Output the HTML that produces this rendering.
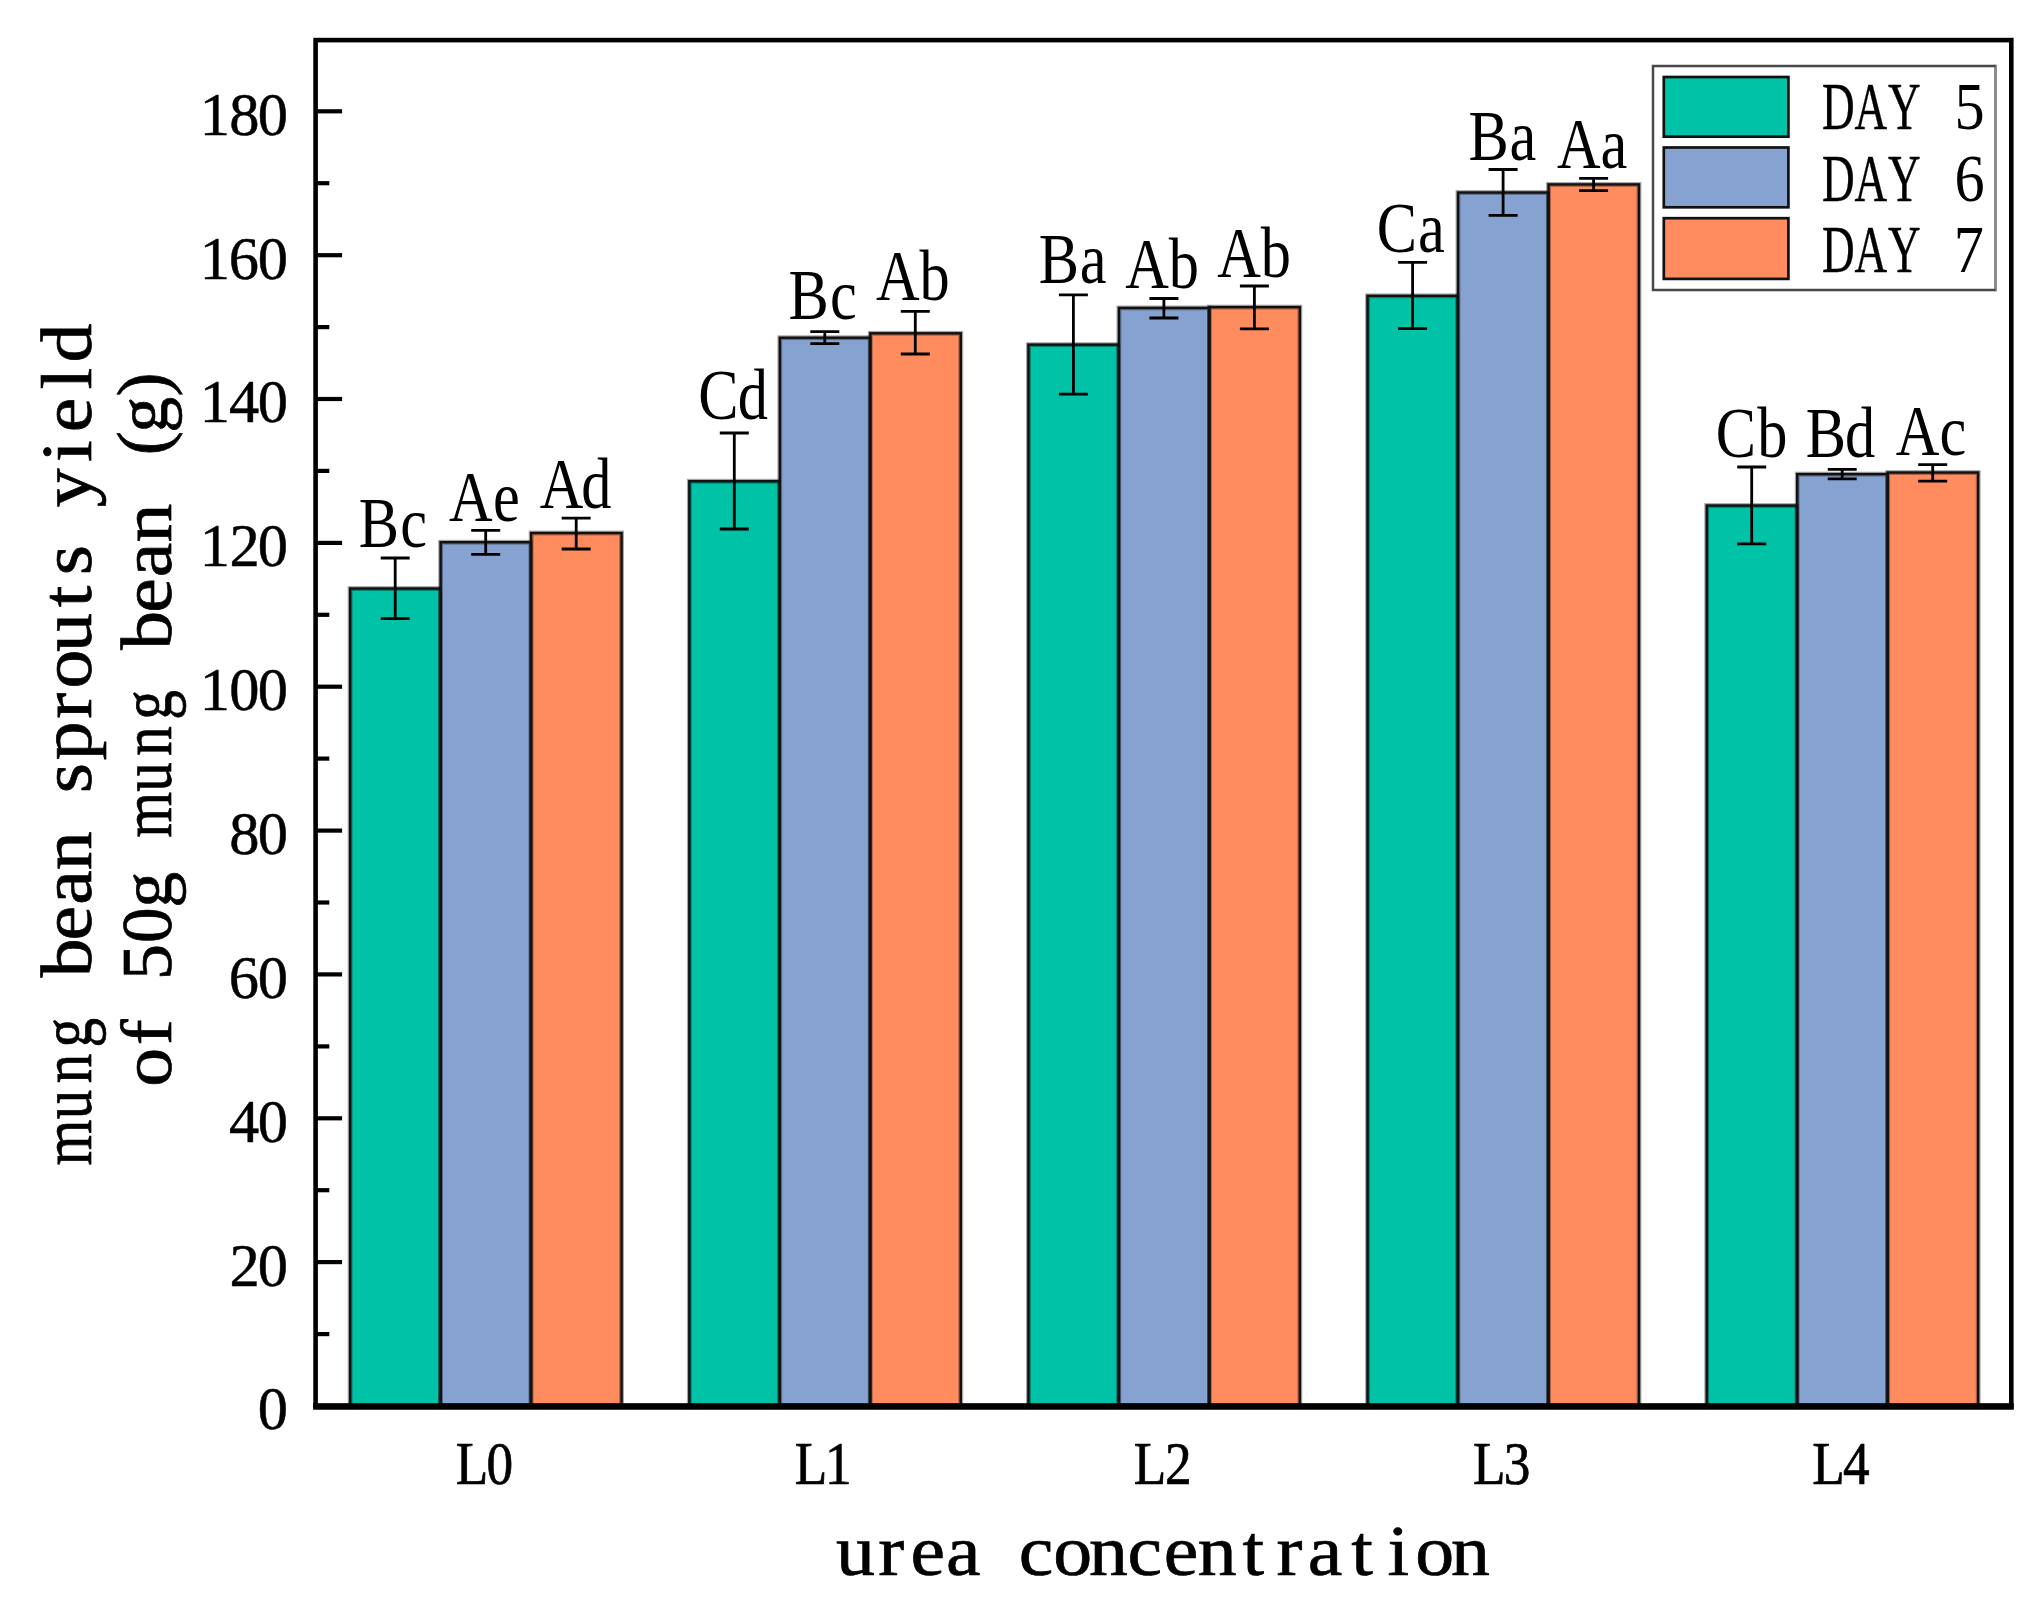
<!DOCTYPE html>
<html lang="en"><head><meta charset="utf-8"><title>mung bean sprouts yield</title>
<style>html,body{margin:0;padding:0;background:#fff}svg{display:block}</style></head>
<body>
<svg width="2040" height="1605" viewBox="0 0 2040 1605" font-family="'Liberation Serif', 'DejaVu Serif', serif">
<desc>Grouped bar chart: mung bean sprouts yield of 50g mung bean (g) versus urea concentration (L0, L1, L2, L3, L4) for DAY 5, DAY 6 and DAY 7</desc>
<rect x="0" y="0" width="2040" height="1605" fill="#fff"/>
<g stroke="#000" stroke-width="4.8" stroke-opacity="0.35">
<rect x="350.1" y="588.5" width="90.5" height="817.5" fill="#00C2A6"/>
<rect x="440.6" y="542.2" width="90.5" height="863.8" fill="#86A2D1"/>
<rect x="531.1" y="533.0" width="90.5" height="873.0" fill="#FF8C5E"/>
<rect x="689.3" y="481.2" width="90.5" height="924.8" fill="#00C2A6"/>
<rect x="779.8" y="337.7" width="90.5" height="1068.3" fill="#86A2D1"/>
<rect x="870.3" y="333.3" width="90.5" height="1072.7" fill="#FF8C5E"/>
<rect x="1028.4" y="344.6" width="90.5" height="1061.4" fill="#00C2A6"/>
<rect x="1118.9" y="307.9" width="90.5" height="1098.1" fill="#86A2D1"/>
<rect x="1209.4" y="307.1" width="90.5" height="1098.9" fill="#FF8C5E"/>
<rect x="1367.5" y="295.8" width="90.5" height="1110.2" fill="#00C2A6"/>
<rect x="1458.0" y="192.5" width="90.5" height="1213.5" fill="#86A2D1"/>
<rect x="1548.5" y="184.4" width="90.5" height="1221.6" fill="#FF8C5E"/>
<rect x="1706.7" y="505.5" width="90.5" height="900.5" fill="#00C2A6"/>
<rect x="1797.2" y="474.1" width="90.5" height="931.9" fill="#86A2D1"/>
<rect x="1887.7" y="472.5" width="90.5" height="933.5" fill="#FF8C5E"/>
</g>
<g stroke="#111" stroke-width="2.4" stroke-opacity="1.00">
<rect x="350.1" y="588.5" width="90.5" height="817.5" fill="none"/>
<rect x="440.6" y="542.2" width="90.5" height="863.8" fill="none"/>
<rect x="531.1" y="533.0" width="90.5" height="873.0" fill="none"/>
<rect x="689.3" y="481.2" width="90.5" height="924.8" fill="none"/>
<rect x="779.8" y="337.7" width="90.5" height="1068.3" fill="none"/>
<rect x="870.3" y="333.3" width="90.5" height="1072.7" fill="none"/>
<rect x="1028.4" y="344.6" width="90.5" height="1061.4" fill="none"/>
<rect x="1118.9" y="307.9" width="90.5" height="1098.1" fill="none"/>
<rect x="1209.4" y="307.1" width="90.5" height="1098.9" fill="none"/>
<rect x="1367.5" y="295.8" width="90.5" height="1110.2" fill="none"/>
<rect x="1458.0" y="192.5" width="90.5" height="1213.5" fill="none"/>
<rect x="1548.5" y="184.4" width="90.5" height="1221.6" fill="none"/>
<rect x="1706.7" y="505.5" width="90.5" height="900.5" fill="none"/>
<rect x="1797.2" y="474.1" width="90.5" height="931.9" fill="none"/>
<rect x="1887.7" y="472.5" width="90.5" height="933.5" fill="none"/>
</g>
<g stroke="#000" stroke-width="2.8" fill="none">
<path d="M395.2 558.0V618.7M380.7 558.0H409.7M380.7 618.7H409.7"/>
<path d="M485.7 530.4V554.4M471.2 530.4H500.2M471.2 554.4H500.2"/>
<path d="M576.2 518.2V549.0M561.7 518.2H590.7M561.7 549.0H590.7"/>
<path d="M734.3 433.0V529.0M719.8 433.0H748.8M719.8 529.0H748.8"/>
<path d="M824.8 331.7V343.7M810.3 331.7H839.3M810.3 343.7H839.3"/>
<path d="M915.3 311.4V354.0M900.8 311.4H929.8M900.8 354.0H929.8"/>
<path d="M1073.4 294.9V394.2M1058.9 294.9H1087.9M1058.9 394.2H1087.9"/>
<path d="M1163.9 298.5V318.0M1149.4 298.5H1178.4M1149.4 318.0H1178.4"/>
<path d="M1254.4 286.0V328.9M1239.9 286.0H1268.9M1239.9 328.9H1268.9"/>
<path d="M1412.6 262.4V328.7M1398.1 262.4H1427.1M1398.1 328.7H1427.1"/>
<path d="M1503.1 169.5V215.3M1488.6 169.5H1517.6M1488.6 215.3H1517.6"/>
<path d="M1593.6 178.4V190.7M1579.1 178.4H1608.1M1579.1 190.7H1608.1"/>
<path d="M1751.7 467.0V543.9M1737.2 467.0H1766.2M1737.2 543.9H1766.2"/>
<path d="M1842.2 469.4V478.8M1827.7 469.4H1856.7M1827.7 478.8H1856.7"/>
<path d="M1932.7 464.7V481.2M1918.2 464.7H1947.2M1918.2 481.2H1947.2"/>
</g>
<rect x="315.6" y="40.1" width="1695.7" height="1365.9" fill="none" stroke="#000" stroke-width="4.6"/>
<path d="M313.1 1406.5H2013.8" stroke="#000" stroke-width="6.6"/>
<g stroke="#000" stroke-width="4.2">
<path d="M315.6 1334.1H329.3"/>
<path d="M315.6 1262.1H342.1"/>
<path d="M315.6 1190.2H329.3"/>
<path d="M315.6 1118.3H342.1"/>
<path d="M315.6 1046.4H329.3"/>
<path d="M315.6 974.4H342.1"/>
<path d="M315.6 902.5H329.3"/>
<path d="M315.6 830.6H342.1"/>
<path d="M315.6 758.6H329.3"/>
<path d="M315.6 686.7H342.1"/>
<path d="M315.6 614.8H329.3"/>
<path d="M315.6 542.9H342.1"/>
<path d="M315.6 470.9H329.3"/>
<path d="M315.6 399.0H342.1"/>
<path d="M315.6 327.1H329.3"/>
<path d="M315.6 255.2H342.1"/>
<path d="M315.6 183.2H329.3"/>
<path d="M315.6 111.3H342.1"/>
</g>
<text transform="translate(258.6,1429.4) scale(0.990,1.000)" font-size="61.0" fill="#000" stroke="#000" stroke-width="0.5" x="-0.8" y="0">0</text>
<text transform="translate(230.0,1285.5) scale(0.990,1.000)" font-size="61.0" fill="#000" stroke="#000" stroke-width="0.5" x="-0.5 28.1" y="0">20</text>
<text transform="translate(230.0,1141.7) scale(0.990,1.000)" font-size="61.0" fill="#000" stroke="#000" stroke-width="0.5" x="-0.9 28.1" y="0">40</text>
<text transform="translate(230.0,997.8) scale(0.990,1.000)" font-size="61.0" fill="#000" stroke="#000" stroke-width="0.5" x="-1.2 28.1" y="0">60</text>
<text transform="translate(230.0,854.0) scale(0.990,1.000)" font-size="61.0" fill="#000" stroke="#000" stroke-width="0.5" x="-0.8 28.1" y="0">80</text>
<text transform="translate(201.4,710.1) scale(0.990,1.000)" font-size="61.0" fill="#000" stroke="#000" stroke-width="0.5" x="-1.7 28.1 57.0" y="0">100</text>
<text transform="translate(201.4,566.3) scale(0.990,1.000)" font-size="61.0" fill="#000" stroke="#000" stroke-width="0.5" x="-1.7 28.4 57.0" y="0">120</text>
<text transform="translate(201.4,422.4) scale(0.990,1.000)" font-size="61.0" fill="#000" stroke="#000" stroke-width="0.5" x="-1.7 28.0 57.0" y="0">140</text>
<text transform="translate(201.4,278.6) scale(0.990,1.000)" font-size="61.0" fill="#000" stroke="#000" stroke-width="0.5" x="-1.7 27.7 57.0" y="0">160</text>
<text transform="translate(201.4,134.7) scale(0.990,1.000)" font-size="61.0" fill="#000" stroke="#000" stroke-width="0.5" x="-1.7 28.1 57.0" y="0">180</text>
<text transform="translate(456.7,1484.4) scale(0.880,1.000)" font-size="60.5" fill="#000" stroke="#000" stroke-width="0.7" x="-1.2 34.0" y="0">L0</text>
<text transform="translate(795.8,1484.4) scale(0.880,1.000)" font-size="60.5" fill="#000" stroke="#000" stroke-width="0.7" x="-1.2 33.1" y="0">L1</text>
<text transform="translate(1134.9,1484.4) scale(0.880,1.000)" font-size="60.5" fill="#000" stroke="#000" stroke-width="0.7" x="-1.2 34.3" y="0">L2</text>
<text transform="translate(1474.1,1484.4) scale(0.880,1.000)" font-size="60.5" fill="#000" stroke="#000" stroke-width="0.7" x="-1.2 33.7" y="0">L3</text>
<text transform="translate(1813.2,1484.4) scale(0.880,1.000)" font-size="60.5" fill="#000" stroke="#000" stroke-width="0.7" x="-1.2 33.8" y="0">L4</text>
<text transform="translate(357.3,546.6) scale(0.850,1.000)" font-size="71.0" fill="#000" x="1.8 50.6" y="0">Bc</text>
<text transform="translate(448.1,520.6) scale(0.850,1.000)" font-size="71.0" fill="#000" x="1.2 52.9" y="0">Ae</text>
<text transform="translate(539.9,508.4) scale(0.850,1.000)" font-size="71.0" fill="#000" x="-0.3 48.7" y="0">Ad</text>
<text transform="translate(698.4,419.4) scale(0.850,1.000)" font-size="71.0" fill="#000" x="-0.1 46.3" y="0">Cd</text>
<text transform="translate(787.1,319.3) scale(0.850,1.000)" font-size="71.0" fill="#000" x="1.8 50.6" y="0">Bc</text>
<text transform="translate(876.5,299.8) scale(0.850,1.000)" font-size="71.0" fill="#000" x="-0.5 50.7" y="0">Ab</text>
<text transform="translate(1037.5,282.8) scale(0.850,1.000)" font-size="71.0" fill="#000" x="1.4 49.8" y="0">Ba</text>
<text transform="translate(1125.7,288.2) scale(0.850,1.000)" font-size="71.0" fill="#000" x="-0.5 50.7" y="0">Ab</text>
<text transform="translate(1217.6,276.5) scale(0.850,1.000)" font-size="71.0" fill="#000" x="-0.5 50.7" y="0">Ab</text>
<text transform="translate(1376.0,251.8) scale(0.850,1.000)" font-size="71.0" fill="#000" x="0.9 49.4" y="0">Ca</text>
<text transform="translate(1467.2,160.4) scale(0.850,1.000)" font-size="71.0" fill="#000" x="1.4 49.8" y="0">Ba</text>
<text transform="translate(1556.4,167.5) scale(0.850,1.000)" font-size="71.0" fill="#000" x="0.7 51.8" y="0">Aa</text>
<text transform="translate(1716.0,456.5) scale(0.850,1.000)" font-size="71.0" fill="#000" x="-0.3 48.4" y="0">Cb</text>
<text transform="translate(1805.4,456.5) scale(0.850,1.000)" font-size="71.0" fill="#000" x="0.4 46.7" y="0">Bd</text>
<text transform="translate(1894.8,455.0) scale(0.850,1.000)" font-size="71.0" fill="#000" x="1.1 52.7" y="0">Ac</text>
<rect x="1653.0" y="66.0" width="342.5" height="224" fill="#fff" stroke="none"/>
<path d="M1995.5 64.7V291.3" fill="none" stroke="#8c8c8c" stroke-width="3"/>
<path d="M1995.5 66H1653V290H1995.5" fill="none" stroke="#484848" stroke-width="2.5"/>
<rect x="1663.8" y="77.0" width="124.6" height="59.7" fill="#00C2A6" stroke="#111" stroke-width="2.7"/>
<text transform="translate(1821.5,129.4) scale(0.660,1.000)" font-size="68.5" fill="#000" stroke="#000" stroke-width="0.4" x="0.7 50.2 100.8" y="0">DAY</text>
<text transform="translate(1953.5,129.4) scale(0.880,1.000)" font-size="68.5" fill="#000" x="1.0" y="0">5</text>
<rect x="1663.8" y="147.5" width="124.6" height="59.8" fill="#86A2D1" stroke="#111" stroke-width="2.7"/>
<text transform="translate(1821.5,201.4) scale(0.660,1.000)" font-size="68.5" fill="#000" stroke="#000" stroke-width="0.4" x="0.7 50.2 100.8" y="0">DAY</text>
<text transform="translate(1953.5,201.4) scale(0.880,1.000)" font-size="68.5" fill="#000" x="1.2" y="0">6</text>
<rect x="1663.8" y="218.2" width="124.6" height="60.7" fill="#FF8C5E" stroke="#111" stroke-width="2.7"/>
<text transform="translate(1821.5,272.0) scale(0.660,1.000)" font-size="68.5" fill="#000" stroke="#000" stroke-width="0.4" x="0.7 50.2 100.8" y="0">DAY</text>
<text transform="translate(1953.5,272.0) scale(0.880,1.000)" font-size="68.5" fill="#000" x="0.4" y="0">7</text>
<text transform="translate(837.3,1575.0) scale(1.080,1.000)" font-size="72.0" fill="#000" stroke="#000" stroke-width="0.7" x="-1.1 37.9 67.7 100.6 141.8 168.1 199.9 233.1 268.7 302.3 333.7 375.3 406.6 435.7 475.9 509.5 535.1 568.3" y="0">urea concentration</text>
<text transform="translate(90.5,1159.0) rotate(-90) scale(0.820,1.000)" font-size="72.0" fill="#000" stroke="#000" stroke-width="0.7" x="-7.9 48.5 92.4 136.1" y="0">mung</text>
<text transform="translate(90.5,977.5) rotate(-90) scale(1.080,1.000)" font-size="72.0" fill="#000" stroke="#000" stroke-width="0.7" x="0.2 34.3 67.3 99.4" y="0">bean</text>
<text transform="translate(90.5,796.0) rotate(-90) scale(1.080,1.000)" font-size="72.0" fill="#000" stroke="#000" stroke-width="0.7" x="2.6 33.2 71.6 99.6 133.4 174.7 204.3" y="0">sprouts</text>
<text transform="translate(90.5,505.6) rotate(-90) scale(1.080,1.000)" font-size="72.0" fill="#000" stroke="#000" stroke-width="0.7" x="-1.5 40.3 67.9 107.6 132.4" y="0">yield</text>
<text transform="translate(170.8,1085.5) rotate(-90) scale(1.080,1.000)" font-size="72.0" fill="#000" stroke="#000" stroke-width="0.7" x="-1.2 37.3" y="0">of</text>
<text transform="translate(170.8,979.6) rotate(-90) scale(1.000,1.000)" font-size="72.0" fill="#000" stroke="#000" stroke-width="0.7" x="-0.5 36.4 71.9" y="0">50g</text>
<text transform="translate(170.8,831.4) rotate(-90) scale(0.820,1.000)" font-size="72.0" fill="#000" stroke="#000" stroke-width="0.7" x="-7.9 48.5 92.4 136.1" y="0">mung</text>
<text transform="translate(170.8,649.9) rotate(-90) scale(1.080,1.000)" font-size="72.0" fill="#000" stroke="#000" stroke-width="0.7" x="0.2 34.3 67.3 99.4" y="0">bean</text>
<text transform="translate(166.8,468.4) rotate(-90) scale(1.000,1.000)" font-size="72.0" fill="#000" stroke="#000" stroke-width="0.7" x="13.1 35.6 71.8" y="0">(g)</text>
</svg>
</body></html>
